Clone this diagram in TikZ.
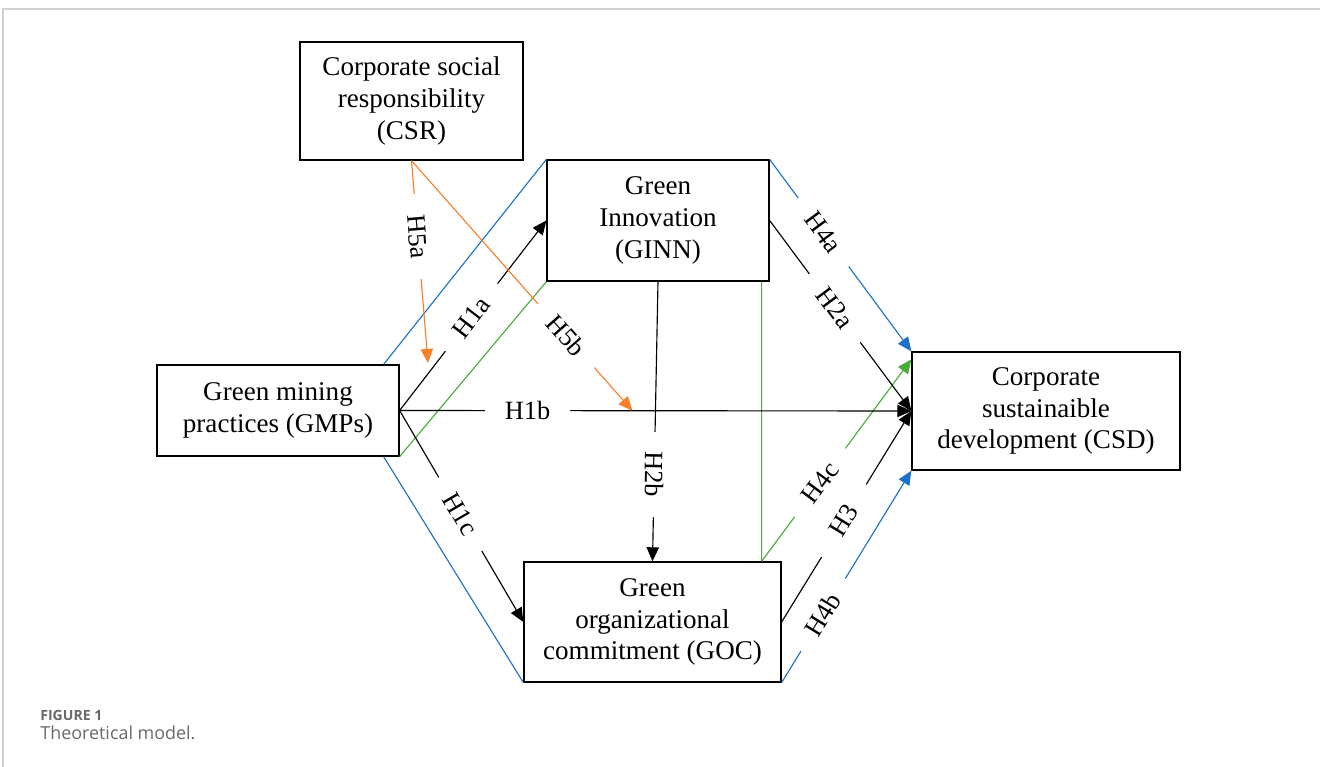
\documentclass[tikz,border=0pt]{standalone}
\usepackage{fontspec}
\setmainfont{Liberation Serif}
\newfontfamily\capfont{Open Sans}
\usepackage{tikz}
\usetikzlibrary{arrows.meta,calc}
\definecolor{hblue}{RGB}{30,115,200}
\definecolor{hgreen}{RGB}{75,172,60}
\definecolor{horange}{RGB}{247,128,40}
\definecolor{capgray}{RGB}{105,105,105}

\begin{document}
\begin{tikzpicture}[x=0.02cm,y=-0.02cm,
    box/.style={draw,line width=0.75pt,align=center,inner sep=0pt,
        font=\fontsize{15.4}{18.1}\selectfont},
    hyp/.style={sloped,fill=white,text=black,inner sep=0pt,minimum width=1.7cm,
        minimum height=0.4cm,font=\fontsize{15}{17}\selectfont},
    link/.style={line width=0.65pt},
    >={Triangle[length=8pt,width=7pt]}]
    \useasboundingbox (0,0) rectangle (1320,767);
    \draw[black!18,line width=1pt] (3,767)--(3,9)--(1320,9);
            % boxes
            \node[box,minimum width=4.46cm,minimum height=2.36cm] (csr) at (411.5,101) {Corporate social\\responsibility\\(CSR)};
            \node[box,minimum width=4.44cm,minimum height=2.42cm] (ginn) at (658,220.5) {Green\\Innovation\\(GINN)};
            \node[box,minimum width=4.84cm,minimum height=1.82cm] (gmp) at (278,410.5) {Green mining\\practices (GMPs)};
            \node[box,minimum width=5.14cm,minimum height=2.40cm] (goc) at (652.5,622) {Green\\organizational\\commitment (GOC)};
            \node[box,minimum width=5.36cm,minimum height=2.36cm] (csd) at (1046,411) {Corporate\\sustainaible\\development (CSD)};
            \coordinate (h5a) at (428,363);
            \coordinate (h5b) at ($(gmp.east)!0.455!(csd.west)$);
            \coordinate (gtop) at ([xshift=-0.16cm]ginn.south east);
            \coordinate (gbot) at ([xshift=-0.4cm]goc.north east);
            % blue
            \draw[link,hblue] ([xshift=-0.32cm]gmp.north east)--(ginn.north west);
            \draw[link,hblue] ([xshift=-0.32cm]gmp.south east)--(goc.south west);
            \draw[link,hblue,->] (ginn.north east)--node[hyp,pos=0.38]{H4a}(csd.north west);
            \draw[link,hblue,->] (goc.south east)--node[hyp,pos=0.32]{H4b}(csd.south west);
            % green
            \draw[link,hgreen] (gmp.south east)--(ginn.south west);
            \draw[link,hgreen] (gtop)--(gbot);
            \draw[link,hgreen,->] (gbot)--node[hyp,pos=0.39]{H4c}([yshift=-0.16cm]csd.north west);
            % black
            \draw[link,->] (gmp.east)--node[hyp,pos=0.49]{H1a}(ginn.west);
            \draw[link,->] (gmp.east)--node[hyp,pos=0.25]{H1b}(csd.west);
            \draw[link,->] (gmp.east)--node[hyp,pos=0.49]{H1c}(goc.west);
            \draw[link,->] (ginn.east)--node[hyp,pos=0.46]{H2a}(csd.west);
            \draw[link,->] (ginn.south)--node[hyp,pos=0.69,allow upside down]{H2b}(goc.north);
            \draw[link,->] (goc.east)--node[hyp,pos=0.48]{H3}(csd.west);
            % orange
            \draw[link,horange,->] (csr.south)--node[hyp,pos=0.375]{H5a}(h5a);
            \draw[link,horange,->] (csr.south)--node[hyp,pos=0.70]{H5b}(h5b);
            % caption
            \node[anchor=base west,inner sep=0pt,text=capgray,font=\capfont\bfseries\fontsize{8}{9}\selectfont] (fig) at (40,720) {FIGURE 1};
            \node[anchor=base west,inner sep=0pt,text=capgray,font=\capfont\fontsize{10.2}{12}\selectfont] (cap) at (40,739) {Theoretical model.};
    \end{tikzpicture}
\end{document}
